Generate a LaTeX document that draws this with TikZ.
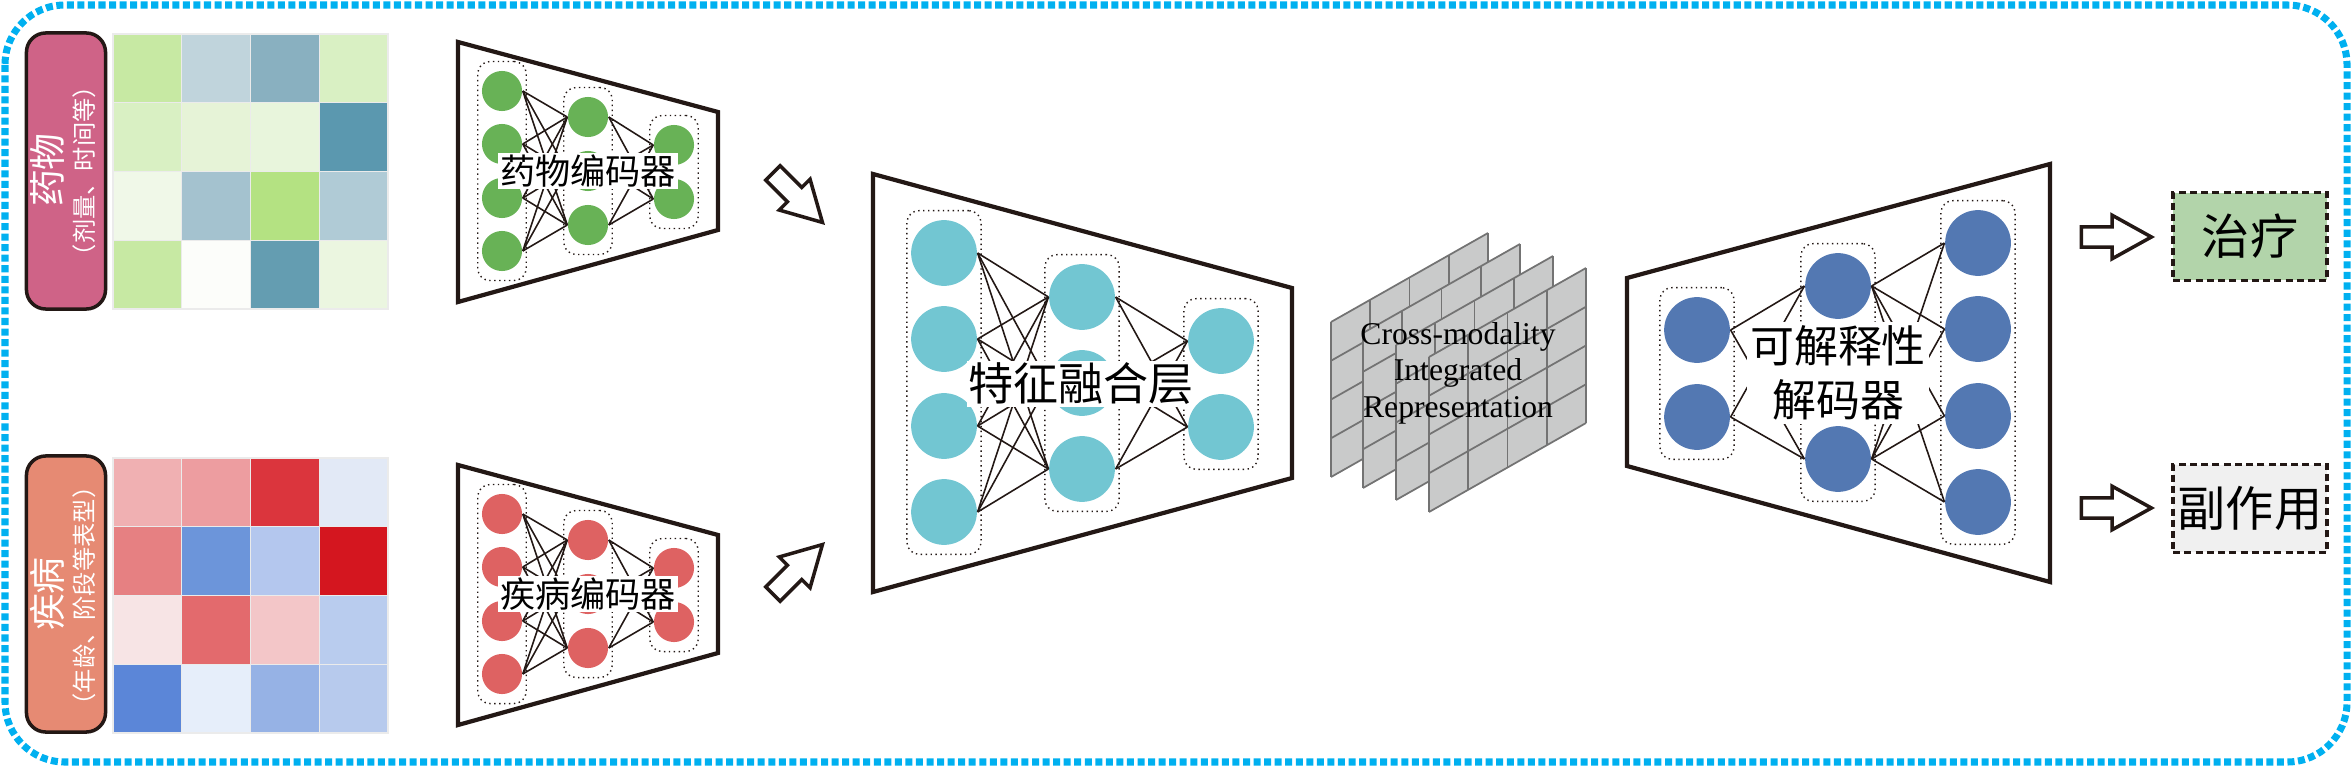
\documentclass[tikz,border=0pt]{standalone}
\usepackage{fontspec}
\setmainfont{Noto Sans CJK SC}
\newfontfamily\serifen{Liberation Serif}
\usepackage{xcolor}
\definecolor{framecyan}{RGB}{0,176,240}
\definecolor{ink}{RGB}{35,24,21}
\definecolor{tagpink}{RGB}{207,99,135}
\definecolor{tagsalmon}{RGB}{230,138,115}
\definecolor{druggreen}{RGB}{104,178,86}
\definecolor{disred}{RGB}{222,98,98}
\definecolor{fusecyan}{RGB}{114,198,210}
\definecolor{decblue}{RGB}{83,120,178}
\definecolor{sheetgray}{RGB}{201,202,202}
\definecolor{sheetline}{RGB}{115,115,115}
\definecolor{curegreen}{RGB}{178,212,170}
\definecolor{sidegray}{RGB}{240,240,240}
\usetikzlibrary{shapes.arrows,fit}
\tikzset{
  outerframe/.style={draw=framecyan, line width=2pt, dash pattern=on 2pt off 1pt,
                     rounded corners=17pt},
  tagbox/.style={draw=ink, line width=1pt, rounded corners=5.5pt, fill=#1,
                 minimum width=22.5pt, minimum height=78.5pt},
  tagtitle/.style={rotate=90, text=white, inner sep=0pt, font=\fontsize{10.5}{12}\selectfont},
  tagnote/.style={rotate=90, text=white, inner sep=0pt, font=\fontsize{6.9}{8}\selectfont},
  trapez/.style={draw=ink, line width=1.2pt, line join=miter},
  neuron/.style={circle, fill=#1, inner sep=0pt, minimum size=18.7pt},
  grp/.style={draw=ink, densely dotted, line width=0.4pt, rounded corners=3.5pt,
              inner xsep=1pt, inner ysep=2.5pt},
  link/.style={draw=ink, line width=0.45pt},
  enclabel/.style={fill=white, inner sep=0.5pt, font=\fontsize{10}{12}\selectfont},
  fuselabel/.style={fill=white, inner sep=0.5pt, font=\fontsize{12.8}{15}\selectfont},
  declabel/.style={fill=white, inner sep=1pt, align=center, font=\fontsize{12.5}{15.4}\selectfont},
  sheetgrid/.style={draw=sheetline, line width=0.5pt},
  xtext/.style={align=center, inner sep=0pt, font=\serifen\fontsize{9}{10.4}\selectfont},
  hollow/.style={single arrow, draw=ink, fill=white, line width=1pt,
                 single arrow head extend=3.3pt, single arrow tip angle=58,
                 minimum height=19.9pt, inner xsep=0pt, inner ysep=2.4pt},
  outbox/.style={draw=ink, line width=0.9pt, dash pattern=on 2pt off 1.2pt, fill=#1,
                 minimum width=43.8pt, minimum height=24.8pt, inner sep=0pt,
                 font=\fontsize{13.7}{16}\selectfont},
}
\begin{document}
\begin{tikzpicture}[x=0.01cm, y=-0.01cm]
\useasboundingbox (0,0) rectangle (2352,767);

% outer frame
\draw[outerframe] (5,5) rectangle (2347,762);

% input tags
\node[tagbox=tagpink] (drugtag) at (66,171) {};
\node[tagtitle] (drugname) at (47,170) {药物};
\node[tagnote] (drugnote) at (84,171) {（剂量、时间等）};
\node[tagbox=tagsalmon] (distag) at (66,594) {};
\node[tagtitle] (disname) at (47,594) {疾病};
\node[tagnote] (disnote) at (84,596) {（年龄、阶段等表型）};

% heatmaps
\foreach \r/\c/\hex in {0/0/C7E9A3,0/1/C0D4DC,0/2/89B0C0,0/3/D9F0C3,
                        1/0/D9F0C3,1/1/E6F3D7,1/2/E8F5DC,1/3/5B98AF,
                        2/0/F0F8E8,2/1/A4C2CF,2/2/B4E282,2/3/B0CBD6,
                        3/0/C7E9A3,3/1/FCFDFA,3/2/649DB1,3/3/EBF6E0}{
  \definecolor{cellc}{HTML}{\hex}
  \filldraw[fill=cellc, draw=black!8, line width=0.4pt] (113+68.75*\c,34+68.75*\r) rectangle ++(68.75,68.75);
}
\foreach \r/\c/\hex in {0/0/F0B0B2,0/1/ED9DA0,0/2/DB353D,0/3/E2E9F6,
                        1/0/E68082,1/1/6C95DA,1/2/B4C7EE,1/3/D4161F,
                        2/0/F7E4E5,2/1/E36A6D,2/2/F3C6C8,2/3/B9CCEE,
                        3/0/5B86D8,3/1/E6EEFA,3/2/96B2E5,3/3/B7CAED}{
  \definecolor{cellc}{HTML}{\hex}
  \filldraw[fill=cellc, draw=black!8, line width=0.4pt] (113+68.75*\c,458+68.75*\r) rectangle ++(68.75,68.75);
}

% encoders
\foreach \enc/\oy/\col/\txt in {drug/0/druggreen/药物编码器, dis/423/disred/疾病编码器}{
  \draw[trapez] (458,42+\oy) -- (718,112+\oy) -- (718,230+\oy) -- (458,302+\oy) -- cycle;
  \foreach \k/\y in {1/91,2/144,3/198,4/251}
    \node[neuron=\col, minimum size=11.4pt] (\enc-a\k) at (502,\y+\oy) {};
  \foreach \k/\y in {1/117,2/171,3/225}
    \node[neuron=\col, minimum size=11.4pt] (\enc-b\k) at (588,\y+\oy) {};
  \foreach \k/\y in {1/145,2/199}
    \node[neuron=\col, minimum size=11.4pt] (\enc-c\k) at (674,\y+\oy) {};
  \node[grp, fit=(\enc-a1)(\enc-a4)] (\enc-ga) {};
  \node[grp, fit=(\enc-b1)(\enc-b3)] (\enc-gb) {};
  \node[grp, fit=(\enc-c1)(\enc-c2)] (\enc-gc) {};
  \foreach \i in {1,...,4} \foreach \j in {1,2,3}
    \draw[link] (\enc-a\i.east) -- (\enc-b\j.west);
  \foreach \i in {1,2,3} \foreach \j in {1,2}
    \draw[link] (\enc-b\i.east) -- (\enc-c\j.west);
  \node[enclabel] (\enc-lbl) at (588,171+\oy) {\txt};
}

\node[hollow, rotate=-45, anchor=tip] (drugarrow) at (825,225) {};
\node[hollow, rotate=45, anchor=tip] (disarrow) at (825,542) {};

% fusion layer
\draw[trapez] (873,174) -- (1292,288) -- (1292,478) -- (873,592) -- cycle;
\foreach \k/\y in {1/253,2/339,3/426,4/512} \node[neuron=fusecyan] (fuse-a\k) at (944,\y) {};
\foreach \k/\y in {1/297,2/383,3/469} \node[neuron=fusecyan] (fuse-b\k) at (1082,\y) {};
\foreach \k/\y in {1/341,2/427} \node[neuron=fusecyan] (fuse-c\k) at (1221,\y) {};
\node[grp, fit=(fuse-a1)(fuse-a4)] (fuse-ga) {};
\node[grp, fit=(fuse-b1)(fuse-b3)] (fuse-gb) {};
\node[grp, fit=(fuse-c1)(fuse-c2)] (fuse-gc) {};
\foreach \i in {1,...,4} \foreach \j in {1,2,3} \draw[link] (fuse-a\i.east) -- (fuse-b\j.west);
\foreach \i in {1,2,3} \foreach \j in {1,2} \draw[link] (fuse-b\i.east) -- (fuse-c\j.west);
\node[fuselabel] (fuse-lbl) at (1081,384) {特征融合层};

% integrated representation sheets
\foreach \sx/\sy in {1331/477,1363/488,1396/500,1429/512}{
  \fill[sheetgray] (\sx,\sy) -- ++(157,-89) -- ++(0,-155) -- ++(-157,89) -- cycle;
  \foreach \u in {0,...,4} \draw[sheetgrid] (\sx+39.25*\u,\sy-22.25*\u) -- ++(0,-155);
  \foreach \v in {0,...,4} \draw[sheetgrid] (\sx,\sy-38.75*\v) -- ++(157,-89);
}
\node[xtext] (xrep) at (1458,373) {Cross-modality\\Integrated\\Representation};

% decoder
\draw[trapez] (1627,278) -- (2050,164) -- (2050,582) -- (1627,466) -- cycle;
\foreach \k/\y in {1/330,2/417} \node[neuron=decblue] (dec-a\k) at (1697,\y) {};
\foreach \k/\y in {1/286,2/459} \node[neuron=decblue] (dec-b\k) at (1838,\y) {};
\foreach \k/\y in {1/243,2/329,3/416,4/502} \node[neuron=decblue] (dec-c\k) at (1978,\y) {};
\node[grp, fit=(dec-a1)(dec-a2)] (dec-ga) {};
\node[grp, fit=(dec-b1)(dec-b2)] (dec-gb) {};
\node[grp, fit=(dec-c1)(dec-c4)] (dec-gc) {};
\foreach \i in {1,2} \foreach \j in {1,2} \draw[link] (dec-a\i.east) -- (dec-b\j.west);
\foreach \i in {1,2} \foreach \j in {1,...,4} \draw[link] (dec-b\i.east) -- (dec-c\j.west);
\node[declabel] (dec-lbl) at (1838,373) {可解释性\\解码器};

% outputs
\node[hollow, anchor=tip] (curearrow) at (2155,237) {};
\node[outbox=curegreen] (cure) at (2250,236.5) {治疗};
\node[hollow, anchor=tip] (sidearrow) at (2155,508) {};
\node[outbox=sidegray] (side) at (2250,508.5) {副作用};

\end{tikzpicture}
\end{document}
